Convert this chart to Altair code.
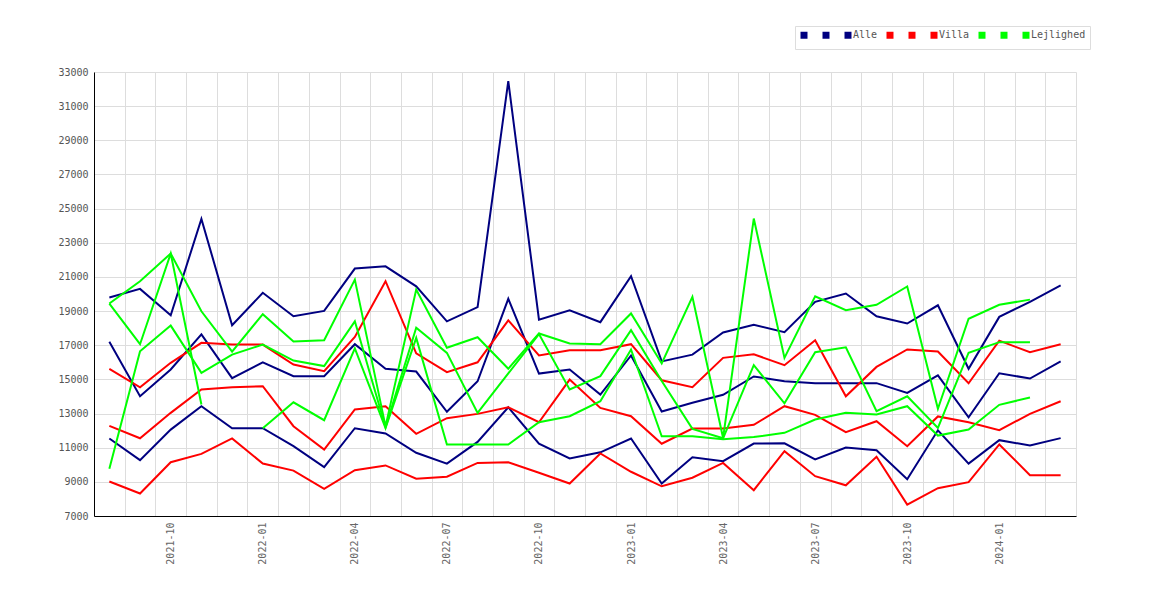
import altair as alt
import pandas as pd

months = ["2021-08", "2021-09", "2021-10", "2021-11", "2021-12", "2022-01", "2022-02", "2022-03",
          "2022-04", "2022-05", "2022-06", "2022-07", "2022-08", "2022-09", "2022-10", "2022-11",
          "2022-12", "2023-01", "2023-02", "2023-03", "2023-04", "2023-05", "2023-06", "2023-07",
          "2023-08", "2023-09", "2023-10", "2023-11", "2023-12", "2024-01", "2024-02", "2024-03"]

alle_high = [19800, 20300, 18750, 24400, 18170, 20070, 18700, 19010, 21490, 21620, 20450, 18400,
             19230, 32460, 18500, 19050, 18350, 21040, 16050, 16450, 17750, 18200, 17760, 19540,
             20030, 18700, 18270, 19340, 15620, 18660, 19540, 20510]
alle_mid = [17200, 14010, 15580, 17640, 15070, 16000, 15190, 15190, 17060, 15620, 15460, 13100,
            14890, 19720, 15340, 15580, 14110, 16400, 13120, 13630, 14100, 15170, 14890, 14780,
            14780, 14780, 14210, 15240, 12780, 15360, 15050, 16060]
alle_low = [11540, 10270, 12060, 13430, 12140, 12140, 11090, 9860, 12140, 11830, 10700, 10070,
            11340, 13370, 11230, 10370, 10730, 11540, 8900, 10440, 10210, 11240, 11260, 10310,
            11010, 10850, 9150, 12020, 10070, 11440, 11130, 11560]

villa_high = [15620, 14540, 15970, 17140, 17040, 17040, 15870, 15480, 17490, 20750, 16520, 15420,
              16000, 18460, 16400, 16710, 16710, 17060, 14950, 14540, 16260, 16470, 15830, 17290,
              14010, 15730, 16750, 16630, 14770, 17270, 16590, 17060]
villa_mid = [12280, 11550, 13040, 14410, 14540, 14600, 12260, 10890, 13240, 13430, 11810, 12730,
             12980, 13370, 12490, 14990, 13330, 12840, 11230, 12120, 12120, 12340, 13430, 12920,
             11910, 12550, 11090, 12830, 12490, 12030, 12980, 13720]
villa_low = [9020, 8320, 10150, 10640, 11540, 10070, 9660, 8590, 9680, 9960, 9180, 9300,
             10110, 10150, 9530, 8900, 10660, 9590, 8740, 9240, 10110, 8510, 10800, 9330,
             8800, 10470, 7670, 8630, 8980, 11190, 9390, 9390]

lejl_a = [19440, 20750, 22370, 18990, 16620, 18820, 17220, 17290, 20840, 12250, 20260, 16850,
          17470, 15620, 17690, 17100, 17060, 18860, 15930, 19830, 11570, 24420, 16260, 19870,
          19050, 19370, 20440, 13280, 18550, 19370, 19670, None]
lejl_b = [19440, 17060, 22370, 13530, None, 12140, 13660, 12610, 16810, 12150, 17430, 11190,
          11190, 11190, 12490, 12840, 13720, 16750, 11670, 11670, 11500, 11620, 11870, 12650,
          13040, 12940, 13430, 11710, 12060, 13510, 13940, None]
lejl_c = [9760, 16650, 18150, 15380, 16450, 17040, 16100, 15780, 18400, 12200, 18020, 16550,
          13040, 15350, 17650, 14410, 15190, 17880, 14900, 12100, 11550, 15830, 13600, 16590,
          16880, 13140, 14010, 12160, 16560, 17180, 17180, None]

series_keys = ["Alle 1", "Alle 2", "Alle", "Villa 1", "Villa 2", "Villa",
               "Lejlighed 1", "Lejlighed 2", "Lejlighed"]
series_values = [alle_low, alle_mid, alle_high, villa_low, villa_mid, villa_high,
                 lejl_b, lejl_c, lejl_a]
series_colors = ["#000080", "#000080", "#000080", "#ff0000", "#ff0000", "#ff0000",
                 "#00ff00", "#00ff00", "#00ff00"]
y_ticks = [7000, 9000, 11000, 13000, 15000, 17000, 19000, 21000, 23000, 25000, 27000, 29000,
           31000, 33000]
label_months = ["01", "04", "07", "10"]

# long table; a missing month starts a new path segment
rows = []
for key, vals in zip(series_keys, series_values):
    seg = 0
    for i, (m, v) in enumerate(zip(months, vals)):
        if v is None:
            seg += 1
            continue
        rows.append({"idx": i, "month": m, "series": key, "seg": f"{key}-{seg}", "value": v})
df = pd.DataFrame(rows)

n = len(months)
# axis values at month boundaries (grid lines); labels shifted to month centres
boundaries = [k - 0.5 for k in range(n + 1)]
month_js = "[" + ",".join(
    f"'{m}'" if m[5:] in label_months else "''" for m in months
) + ",'']"

FONT = "DejaVu Sans Mono"
step = 982 / n

x_enc = alt.X(
    "idx:Q",
    scale=alt.Scale(domain=[-0.5, n - 0.5], nice=False, zero=False),
    axis=alt.Axis(
        title=None, values=boundaries, labelAngle=-90, ticks=False, grid=True,
        gridColor="#dddddd", gridWidth=1, domainColor="#000000", domainWidth=1,
        labelColor="#666666", labelFont=FONT, labelFontSize=10, labelPadding=6,
        labelOffset=step / 2, labelFlush=False, labelOverlap=False, labelBound=False,
        labelExpr=f"{month_js}[round(datum.value + 0.5)]",
    ),
)
y_enc = alt.Y(
    "value:Q",
    scale=alt.Scale(domain=[7000, 33000], nice=False, zero=False),
    axis=alt.Axis(
        title=None, values=y_ticks, format="d", ticks=False, grid=True,
        gridColor="#dddddd", gridWidth=1, domainColor="#000000", domainWidth=1,
        labelColor="#555555", labelFont=FONT, labelFontSize=10, labelPadding=6,
    ),
)

lines = alt.Chart(df).mark_line(strokeWidth=2).encode(
    x=x_enc,
    y=y_enc,
    detail="seg:N",
    color=alt.Color(
        "series:N",
        scale=alt.Scale(domain=series_keys, range=series_colors),
        legend=alt.Legend(
            title=None, orient="none", legendX=701, legendY=-46, direction="horizontal",
            symbolType="square", symbolSize=9, symbolStrokeWidth=4,
            labelFont=FONT, labelFontSize=10, labelColor="#555555",
            labelOffset=0, columnPadding=2, padding=4, strokeColor="#dddddd",
            fillColor="#ffffff",
            labelExpr="indexof(['Alle','Villa','Lejlighed'], datum.label) >= 0 ? datum.label : ' '",
        ),
    ),
)

chart = lines.properties(
    width=982,
    height=444,
    padding={"left": 86, "top": 64, "right": 86, "bottom": 76},
    autosize=alt.AutoSizeParams(type="none"),
).configure_view(strokeWidth=0)

chart.save("out.html", embed_options={"renderer": "svg", "actions": False})
